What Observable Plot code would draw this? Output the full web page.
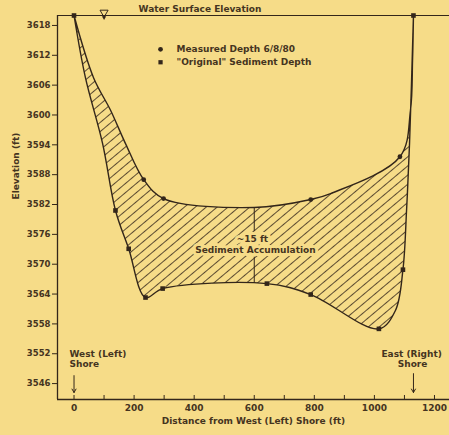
<!DOCTYPE html>
<html>
<head>
<meta charset="utf-8">
<script src="https://cdn.jsdelivr.net/npm/d3@7"></script>
<script src="https://cdn.jsdelivr.net/npm/@observablehq/plot@0.6"></script>
<style>
  html, body { margin: 0; padding: 0; background: #f6dc88; }
  #chart { width: 449px; height: 435px; overflow: hidden; }
</style>
</head>
<body>
<div id="chart"></div>
<script>
// ---- Data ----
// Measured depth 6/8/80 (upper curve trace, ft from west shore / elevation ft)
const upperX    = [0, 65, 122, 171, 232, 298, 600, 788, 854, 1085, 1120, 1127, 1130];
const upperElev = [3620, 3607.5, 3600.9, 3594.3, 3587, 3583.2, 3581.4, 3583, 3584.2, 3591.6, 3600.9, 3611, 3620];
// "Original" sediment depth (lower curve trace)
const lowerX    = [0, 38, 95, 138, 182, 238, 295, 642, 788, 1015, 1070, 1095, 1107, 1117, 1130];
const lowerElev = [3620, 3607.5, 3594.3, 3580.8, 3573.1, 3563.3, 3565.1, 3566.1, 3563.9, 3557, 3560.7, 3568.9, 3580.8, 3594.3, 3620];
// Marker points
const measuredX    = [232, 298, 788, 1085];
const measuredElev = [3587, 3583.2, 3583, 3591.6];
const originalX    = [0, 138, 182, 238, 295, 642, 788, 1015, 1095, 1130];
const originalElev = [3620, 3580.8, 3573.1, 3563.3, 3565.1, 3566.1, 3563.9, 3557, 3568.9, 3620];
// Axes
const yTicks = [3546, 3552, 3558, 3564, 3570, 3576, 3582, 3588, 3594, 3600, 3606, 3612, 3618];
const xTicksMinor = [0, 100, 200, 300, 400, 500, 600, 700, 800, 900, 1000, 1100, 1200];
const xTicksMajor = [0, 200, 400, 600, 800, 1000, 1200];
const xDomain = [-55, 1250];
const yDomain = [3542.8, 3620];
const waterElev = 3620;
// Annotations
const legendItems = [
  {x: 288, y: 3613.2, symbol: "circle", label: "Measured Depth 6/8/80"},
  {x: 288, y: 3610.6, symbol: "square", label: "\"Original\" Sediment Depth"}
];
const accumLabels = [
  {x: 594, y: 3575.0, text: "~15 ft"},
  {x: 604, y: 3572.8, text: "Sediment Accumulation"}
];
const accumRules = [
  {x: 600, y1: 3581.4, y2: 3576.6},
  {x: 600, y1: 3571.4, y2: 3566.2}
];
const westLabels = [
  {x: -15, y: 3552.0, text: "West (Left)"},
  {x: -15, y: 3550.0, text: "Shore"}
];
const eastLabels = [
  {x: 1124, y: 3552.0, text: "East (Right)"},
  {x: 1127, y: 3550.0, text: "Shore"}
];
const shoreArrows = [
  {x: 0, y1: 3547.6, y2: 3544.2},
  {x: 1130, y1: 3548.0, y2: 3544.2}
];
const waterLabel = [{x: 215, y: 3621.0, text: "Water Surface Elevation"}];
const waterSymbol = [{x: 100, y: 3620.6}];

const bg = "#f6dc88";
const ink = "#33261a";
const textInk = "#45341f";

const upper = upperX.map((x, i) => ({x, y: upperElev[i]}));
const lower = lowerX.map((x, i) => ({x, y: lowerElev[i]}));
const polygon = upper.concat(lower.slice().reverse().slice(1));
const measured = measuredX.map((x, i) => ({x, y: measuredElev[i]}));
const original = originalX.map((x, i) => ({x, y: originalElev[i]}));

// Curve: Catmull-Rom on each side of the rightmost point, closed as a region
function splitCatmull(context) {
  let pts = [];
  return {
    areaStart() {}, areaEnd() {},
    lineStart() { pts = []; },
    point(x, y) { pts.push([+x, +y]); },
    lineEnd() {
      let k = 0;
      pts.forEach((p, i) => { if (p[0] > pts[k][0]) k = i; });
      const c = d3.curveCatmullRom(context);
      c.areaStart();
      c.lineStart(); pts.slice(0, k + 1).forEach(p => c.point(p[0], p[1])); c.lineEnd();
      c.lineStart(); pts.slice(k).forEach(p => c.point(p[0], p[1])); c.lineEnd();
      c.areaEnd();
    }
  };
}

const font = "DejaVu Sans, sans-serif";
const fs = 9;

const chart = Plot.plot({
  width: 449,
  height: 435,
  marginLeft: 57,
  marginRight: 0,
  marginTop: 15,
  marginBottom: 36,
  style: {background: bg, fontFamily: font, fontWeight: "bold", color: textInk, overflow: "visible"},
  x: {domain: xDomain},
  y: {domain: yDomain},
  marks: [
    Plot.line(polygon, {x: "x", y: "y", curve: splitCatmull, fill: "url(#hatch)", stroke: ink, strokeWidth: 1.4}),
    Plot.ruleY([waterElev], {stroke: ink, strokeWidth: 1.1}),
    Plot.ruleX([xDomain[0]], {stroke: ink, strokeWidth: 1.3}),
    Plot.ruleY([yDomain[0]], {stroke: ink, strokeWidth: 1.3}),
    Plot.axisY({ticks: yTicks, tickFormat: "d", tickSize: 5, tickPadding: 2, fontSize: 8.5, fontWeight: "bold", label: null, stroke: ink, fill: textInk}),
    Plot.axisX({ticks: xTicksMinor, tickSize: -4, tickFormat: () => "", label: null, stroke: ink}),
    Plot.axisX({ticks: xTicksMajor, tickFormat: "d", tickSize: 0, tickPadding: 5, fontSize: 9, fontWeight: "bold", label: null, fill: textInk}),
    Plot.text(["Elevation (ft)"], {frameAnchor: "left", rotate: -90, dx: -41, dy: -8, fontSize: fs, fill: textInk}),
    Plot.text(["Distance from West (Left) Shore (ft)"], {frameAnchor: "bottom", dy: 24, fontSize: fs, fill: textInk}),
    Plot.dot(measured, {x: "x", y: "y", r: 2.4, fill: ink, symbol: "circle"}),
    Plot.dot(original, {x: "x", y: "y", r: 2.6, fill: ink, symbol: "square"}),
    Plot.dot(legendItems, {x: "x", y: "y", r: 2.4, fill: ink, symbol: "symbol"}),
    Plot.text(legendItems, {x: "x", y: "y", text: "label", textAnchor: "start", dx: 16, fontSize: fs, fill: textInk}),
    Plot.ruleX(accumRules, {x: "x", y1: "y1", y2: "y2", stroke: ink, strokeWidth: 1}),
    Plot.text(accumLabels, {x: "x", y: "y", text: "text", fontSize: fs, fill: textInk, stroke: bg, strokeWidth: 6, paintOrder: "stroke"}),
    Plot.text(westLabels, {x: "x", y: "y", text: "text", textAnchor: "start", fontSize: fs, fill: textInk}),
    Plot.text(eastLabels, {x: "x", y: "y", text: "text", textAnchor: "middle", fontSize: fs, fill: textInk}),
    Plot.arrow(shoreArrows, {x: "x", y1: "y1", y2: "y2", stroke: ink, strokeWidth: 1, headLength: 6}),
    Plot.text(waterLabel, {x: "x", y: "y", text: "text", textAnchor: "start", fontSize: fs, fill: textInk, lineAnchor: "bottom", dy: 1}),
    Plot.dot(waterSymbol, {x: "x", y: "y", symbol: "triangle", rotate: 180, r: 3, stroke: ink, fill: "none", strokeWidth: 1}),
    Plot.dot(waterSymbol, {x: "x", y: d => d.y - 1.0, symbol: "triangle", rotate: 180, r: 1.6, fill: ink})
  ]
});

const defs = d3.select(chart).insert("defs", ":first-child");
defs.append("pattern")
  .attr("id", "hatch")
  .attr("patternUnits", "userSpaceOnUse")
  .attr("width", 7).attr("height", 7)
  .attr("patternTransform", "rotate(50)")
  .append("line")
  .attr("x1", 3.5).attr("y1", -1).attr("x2", 3.5).attr("y2", 8)
  .attr("stroke", ink).attr("stroke-width", 0.8);

document.getElementById("chart").appendChild(chart);
</script>
</body>
</html>
